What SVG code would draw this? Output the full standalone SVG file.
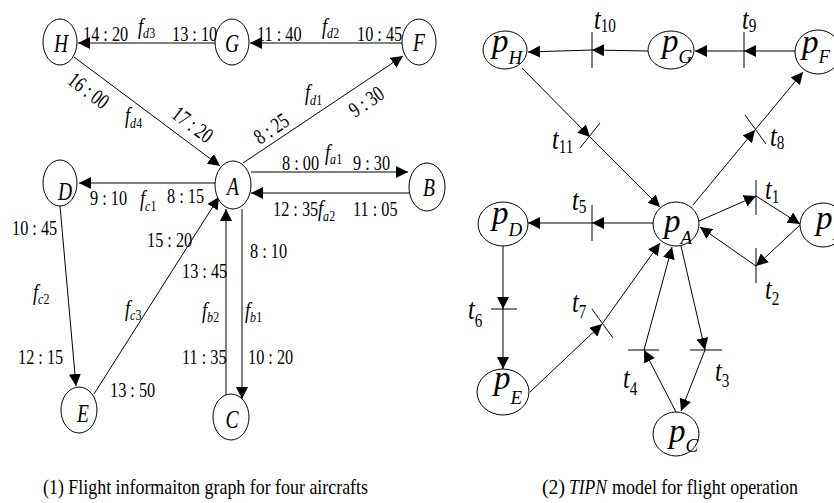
<svg xmlns="http://www.w3.org/2000/svg" width="834" height="503" viewBox="0 0 834 503">
<defs>
<marker id="ah" viewBox="0 0 12 12" refX="12" refY="6" markerWidth="12" markerHeight="12" markerUnits="userSpaceOnUse" orient="auto">
<path d="M0,0 L12,6 L0,12 z" fill="#000"/>
</marker>
</defs>
<style>
.nd{fill:#fff;stroke:#000;stroke-width:1}
.e{stroke:#000;stroke-width:1;fill:none;marker-end:url(#ah)}
.bar{stroke:#000;stroke-width:1}
text{font-family:"Liberation Serif","Times New Roman",serif;fill:#000}
.tm{font-size:22px}
.it{font-style:italic}
.nl{font-size:25px;font-style:italic;text-anchor:middle}
.f{font-size:23px;font-style:italic}
.sb{font-size:15px}
.tl{font-size:30px;font-style:italic}
.ts{font-size:19px;font-style:normal}
.pl{font-size:33px;font-style:italic}
.ps{font-size:19px}
.cap{font-size:22px}
</style>
<rect width="834" height="503" fill="#fff"/>

<g id="edges-left">
<line class="e" x1="215" y1="43" x2="78" y2="43"/>
<line class="e" x1="402" y1="43" x2="250" y2="43"/>
<line class="e" x1="74" y1="57" x2="220" y2="166"/>
<line class="e" x1="243" y1="163" x2="403" y2="56"/>
<line class="e" x1="251" y1="172" x2="408" y2="172"/>
<line class="e" x1="409" y1="193" x2="251" y2="193"/>
<line class="e" x1="215" y1="183" x2="79" y2="183"/>
<line class="e" x1="60" y1="206" x2="76" y2="386"/>
<line class="e" x1="94" y1="394" x2="219" y2="197"/>
<line class="e" x1="226" y1="395" x2="226" y2="209"/>
<line class="e" x1="242" y1="209" x2="242" y2="399"/>
</g>

<g id="node-H"><ellipse class="nd" cx="60" cy="42" rx="17" ry="23"/><text class="nl" transform="translate(61,52) scale(0.78,1)">H</text></g>
<g id="node-G"><ellipse class="nd" cx="232" cy="42" rx="17" ry="23"/><text class="nl" transform="translate(232,52) scale(0.78,1)">G</text></g>
<g id="node-F"><ellipse class="nd" cx="419" cy="42" rx="17" ry="23"/><text class="nl" transform="translate(419,51) scale(0.78,1)">F</text></g>
<g id="node-A"><ellipse class="nd" cx="233" cy="185" rx="18" ry="24"/><text class="nl" transform="translate(233,195) scale(0.78,1)">A</text></g>
<g id="node-B"><ellipse class="nd" cx="427" cy="187" rx="18" ry="24"/><text class="nl" transform="translate(429,196) scale(0.78,1)">B</text></g>
<g id="node-D"><ellipse class="nd" cx="60" cy="183" rx="17" ry="23"/><text class="nl" transform="translate(65,200) scale(0.78,1)">D</text></g>
<g id="node-E"><ellipse class="nd" cx="79" cy="410" rx="18" ry="23"/><text class="nl" transform="translate(83,422) scale(0.78,1)">E</text></g>
<g id="node-C"><ellipse class="nd" cx="231" cy="417" rx="18" ry="23"/><text class="nl" transform="translate(232,428) scale(0.78,1)">C</text></g>

<g id="labels-left">
<text class="tm" transform="translate(83,41) scale(0.74,1)">14 : 20</text>
<text class="f" transform="translate(138,34) scale(0.8,1)">f<tspan class="sb" dy="4">d</tspan><tspan class="sb" font-style="normal">3</tspan></text>
<text class="tm" transform="translate(172,41) scale(0.74,1)">13 : 10</text>
<text class="tm" transform="translate(257,41) scale(0.74,1)">11 : 40</text>
<text class="f" transform="translate(322,34) scale(0.8,1)">f<tspan class="sb" dy="4">d</tspan><tspan class="sb" font-style="normal">2</tspan></text>
<text class="tm" transform="translate(357,41) scale(0.74,1)">10 : 45</text>
<text class="tm" text-anchor="middle" transform="translate(89,90) rotate(37) scale(0.74,1)" y="8">16 : 00</text>
<text class="f" transform="translate(125,123) scale(0.8,1)">f<tspan class="sb" dy="5">d</tspan><tspan class="sb" font-style="normal">4</tspan></text>
<text class="tm" text-anchor="middle" transform="translate(193,124) rotate(37) scale(0.74,1)" y="8">17 : 20</text>
<text class="tm" text-anchor="middle" transform="translate(271,128) rotate(-34) scale(0.74,1)" y="8">8 : 25</text>
<text class="f" transform="translate(305,100) scale(0.8,1)">f<tspan class="sb" dy="5">d</tspan><tspan class="sb" font-style="normal">1</tspan></text>
<text class="tm" text-anchor="middle" transform="translate(366,101) rotate(-34) scale(0.74,1)" y="8">9 : 30</text>
<text class="tm" transform="translate(282,170) scale(0.74,1)">8 : 00</text>
<text class="f" transform="translate(325,160) scale(0.8,1)">f<tspan class="sb" dy="4">a</tspan><tspan class="sb" font-style="normal">1</tspan></text>
<text class="tm" transform="translate(353,170) scale(0.74,1)">9 : 30</text>
<text class="tm" transform="translate(90,205) scale(0.74,1)">9 : 10</text>
<text class="f" transform="translate(140,206) scale(0.8,1)">f<tspan class="sb" dy="5">c</tspan><tspan class="sb" font-style="normal">1</tspan></text>
<text class="tm" transform="translate(167,203) scale(0.74,1)">8 : 15</text>
<text class="tm" transform="translate(273,216) scale(0.74,1)">12 : 35</text>
<text class="f" transform="translate(318,216) scale(0.8,1)">f<tspan class="sb" dy="5">a</tspan><tspan class="sb" font-style="normal">2</tspan></text>
<text class="tm" transform="translate(353,216) scale(0.74,1)">11 : 05</text>
<text class="tm" transform="translate(12,235) scale(0.74,1)">10 : 45</text>
<text class="tm" transform="translate(147,247) scale(0.74,1)">15 : 20</text>
<text class="tm" transform="translate(250,258) scale(0.74,1)">8 : 10</text>
<text class="tm" transform="translate(182,278) scale(0.74,1)">13 : 45</text>
<text class="f" transform="translate(33,300) scale(0.8,1)">f<tspan class="sb" dy="4">c</tspan><tspan class="sb" font-style="normal">2</tspan></text>
<text class="f" transform="translate(125,316) scale(0.8,1)">f<tspan class="sb" dy="4">c</tspan><tspan class="sb" font-style="normal">3</tspan></text>
<text class="f" transform="translate(202,318) scale(0.8,1)">f<tspan class="sb" dy="4">b</tspan><tspan class="sb" font-style="normal">2</tspan></text>
<text class="f" transform="translate(245,318) scale(0.8,1)">f<tspan class="sb" dy="4">b</tspan><tspan class="sb" font-style="normal">1</tspan></text>
<text class="tm" transform="translate(18,364) scale(0.74,1)">12 : 15</text>
<text class="tm" transform="translate(182,364) scale(0.74,1)">11 : 35</text>
<text class="tm" transform="translate(248,364) scale(0.74,1)">10 : 20</text>
<text class="tm" transform="translate(110,397) scale(0.74,1)">13 : 50</text>
<text class="cap" x="43" y="494" textLength="325" lengthAdjust="spacingAndGlyphs">(1) Flight informaiton graph for four aircrafts</text>
</g>

<g id="edges-right">
<line class="e" x1="648" y1="51" x2="592" y2="50"/>
<line class="e" x1="592" y1="50" x2="528" y2="52"/>
<line class="e" x1="795" y1="51" x2="744" y2="51"/>
<line class="e" x1="744" y1="51" x2="695" y2="51"/>
<line class="e" x1="522" y1="68" x2="590" y2="137"/>
<line class="e" x1="590" y1="137" x2="660" y2="207"/>
<line class="e" x1="693" y1="205" x2="755" y2="130"/>
<line class="e" x1="755" y1="130" x2="803" y2="72"/>
<line class="e" x1="653" y1="223" x2="592" y2="223"/>
<line class="e" x1="592" y1="223" x2="528" y2="223"/>
<line class="e" x1="699" y1="221" x2="756" y2="196"/>
<line class="e" x1="756" y1="196" x2="800" y2="224"/>
<line class="e" x1="800" y1="225" x2="756" y2="266"/>
<line class="e" x1="756" y1="266" x2="700" y2="227"/>
<line class="e" x1="503" y1="246" x2="503" y2="309"/>
<line class="e" x1="503" y1="309" x2="503" y2="369"/>
<line class="e" x1="530" y1="392" x2="602" y2="324"/>
<line class="e" x1="602" y1="324" x2="660" y2="243"/>
<line class="e" x1="681" y1="246" x2="705" y2="350"/>
<line class="e" x1="705" y1="350" x2="681" y2="411"/>
<line class="e" x1="676" y1="412" x2="644" y2="350"/>
<line class="e" x1="644" y1="350" x2="672" y2="247"/>
</g>

<g id="t10"><line class="bar" x1="592" y1="32" x2="592" y2="68"/><text class="tl" transform="translate(594,29) scale(0.8,1)">t<tspan class="ts" dy="3">10</tspan></text></g>
<g id="t9"><line class="bar" x1="744" y1="32" x2="744" y2="68"/><text class="tl" transform="translate(742,29) scale(0.8,1)">t<tspan class="ts" dy="3">9</tspan></text></g>
<g id="t11"><line class="bar" x1="580" y1="148" x2="600" y2="123"/><text class="tl" transform="translate(552,149) scale(0.8,1)">t<tspan class="ts" dy="4">11</tspan></text></g>
<g id="t8"><line class="bar" x1="745" y1="115" x2="766" y2="144"/><text class="tl" transform="translate(770,146) scale(0.8,1)">t<tspan class="ts" dy="3">8</tspan></text></g>
<g id="t5"><line class="bar" x1="592" y1="205" x2="592" y2="241"/><text class="tl" transform="translate(572,210) scale(0.8,1)">t<tspan class="ts" dy="3">5</tspan></text></g>
<g id="t1"><line class="bar" x1="756" y1="180" x2="756" y2="215"/><text class="tl" transform="translate(765,199) scale(0.8,1)">t<tspan class="ts" dy="4">1</tspan></text></g>
<g id="t2"><line class="bar" x1="756" y1="248" x2="756" y2="283"/><text class="tl" transform="translate(765,299) scale(0.8,1)">t<tspan class="ts" dy="6">2</tspan></text></g>
<g id="t6"><line class="bar" x1="491" y1="309" x2="517" y2="309"/><text class="tl" transform="translate(468,319) scale(0.8,1)">t<tspan class="ts" dy="8">6</tspan></text></g>
<g id="t7"><line class="bar" x1="592" y1="309" x2="613" y2="338"/><text class="tl" transform="translate(572,312) scale(0.8,1)">t<tspan class="ts" dy="6">7</tspan></text></g>
<g id="t4"><line class="bar" x1="628" y1="350" x2="659" y2="350"/><text class="tl" transform="translate(623,388) scale(0.8,1)">t<tspan class="ts" dy="7">4</tspan></text></g>
<g id="t3"><line class="bar" x1="690" y1="350" x2="722" y2="350"/><text class="tl" transform="translate(715,381) scale(0.8,1)">t<tspan class="ts" dy="6">3</tspan></text></g>

<g id="pH"><ellipse class="nd" cx="505" cy="50" rx="22" ry="19"/><text class="pl" x="492" y="52">p<tspan class="ps" dy="12">H</tspan></text></g>
<g id="pG"><ellipse class="nd" cx="671" cy="50" rx="23" ry="19"/><text class="pl" x="662" y="52">p<tspan class="ps" dy="11">G</tspan></text></g>
<g id="pF"><ellipse class="nd" cx="818" cy="52" rx="23" ry="22"/><text class="pl" x="802" y="53">p<tspan class="ps" dy="10">F</tspan></text></g>
<g id="pA"><ellipse class="nd" cx="676" cy="224" rx="23" ry="22"/><text class="pl" x="664" y="232">p<tspan class="ps" dy="12" font-size="15px">A</tspan></text></g>
<g id="pD"><ellipse class="nd" cx="503" cy="224" rx="25" ry="22"/><text class="pl" x="492" y="224">p<tspan class="ps" dy="12">D</tspan></text></g>
<g id="pB"><ellipse class="nd" cx="823" cy="225" rx="23" ry="22"/><text class="pl" x="816" y="229">p<tspan class="ps" dy="11">B</tspan></text></g>
<g id="pE"><ellipse class="nd" cx="503" cy="392" rx="26" ry="23"/><text class="pl" x="494" y="389">p<tspan class="ps" dy="15">E</tspan></text></g>
<g id="pC"><ellipse class="nd" cx="676" cy="434" rx="23" ry="22"/><text class="pl" x="669" y="442">p<tspan class="ps" dy="10">C</tspan></text></g>

<g id="caption-right">
<text class="cap" x="542" y="494" textLength="23" lengthAdjust="spacingAndGlyphs">(2)</text>
<text class="cap it" x="569" y="494" textLength="38" lengthAdjust="spacingAndGlyphs">TIPN</text>
<text class="cap" x="612" y="494" textLength="186" lengthAdjust="spacingAndGlyphs">model for flight operation</text>
</g>
</svg>
